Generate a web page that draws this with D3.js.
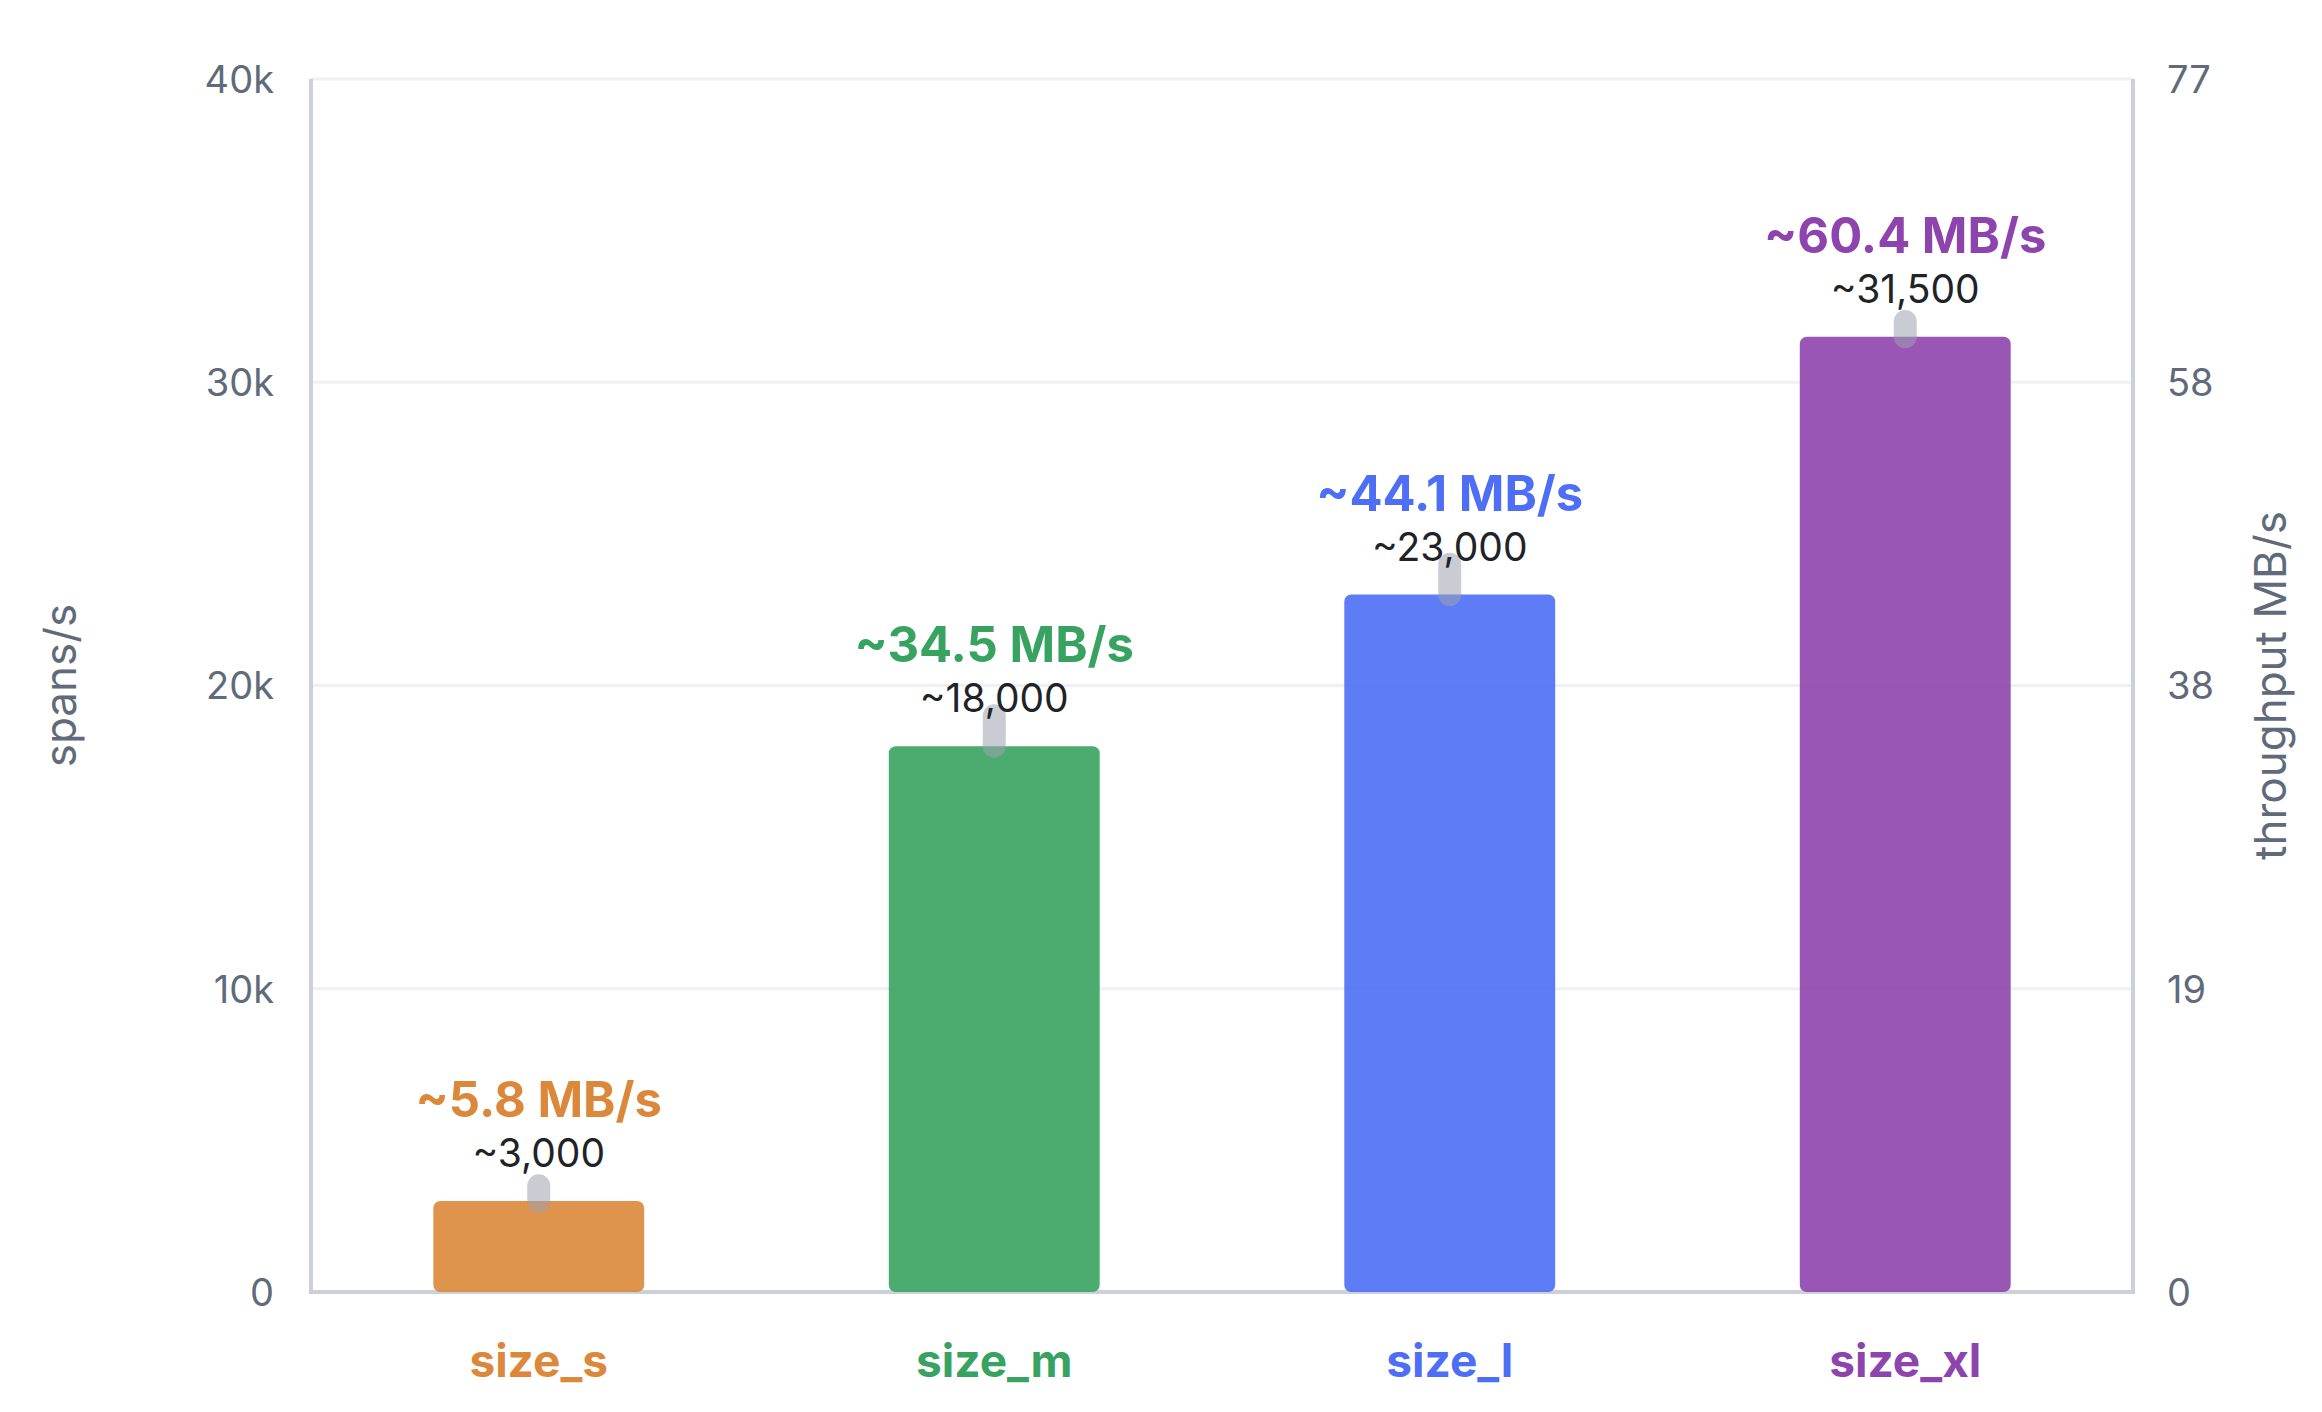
<!DOCTYPE html>
<html>
<head>
<meta charset="utf-8">
<script src="https://cdn.jsdelivr.net/npm/d3@7"></script>
<style>
  html, body { margin: 0; padding: 0; background: #ffffff; }
  svg { display: block; font-family: Inter, "Noto Sans", sans-serif; }
</style>
</head>
<body>
<svg id="chart" width="2322" height="1412"></svg>
<script>
// ---- data ----
const categories = ["size_s", "size_m", "size_l", "size_xl"];
const spansPerSec = [3000, 18000, 23000, 31500];
const spread = [500, 1000, 1000, 500];
const throughputMBs = [5.8, 34.5, 44.1, 60.4];
const leftTicks = [0, 10000, 20000, 30000, 40000];
const leftTickLabels = ["0", "10k", "20k", "30k", "40k"];
const rightTicks = [0, 19.25, 38.5, 57.75, 77];
const rightTickLabels = ["0", "19", "38", "58", "77"];
const seriesColors = ["#DB883B", "#38A361", "#4D6EF5", "#8E44AD"];

// ---- layout ----
const W = 2322, H = 1412;
const margin = { top: 79, right: 189, bottom: 120, left: 311 };
const x0 = margin.left, x1 = W - margin.right;
const y0 = H - margin.bottom, y1 = margin.top;

const svg = d3.select("#chart");

const x = d3.scaleBand().domain(categories).range([x0, x1])
  .paddingInner(0.537).paddingOuter(0.2685);
const y = d3.scaleLinear().domain([0, 40000]).range([y0, y1]);
const yR = d3.scaleLinear().domain([0, 77]).range([y0, y1]);
const color = d3.scaleOrdinal().domain(categories).range(seriesColors);

const axisColor = "#CBD0D9";
const tickColor = "#5F6B7A";

// gridlines
svg.append("g").selectAll("line").data(leftTicks.filter(d => d > 0)).join("line")
  .attr("x1", x0).attr("x2", x1)
  .attr("y1", d => y(d)).attr("y2", d => y(d))
  .attr("stroke", "#EEF0F4").attr("stroke-width", 3);

// left axis
const gL = svg.append("g").attr("transform", `translate(${x0},0)`)
  .call(d3.axisLeft(y).tickValues(leftTicks).tickSize(0).tickPadding(37)
    .tickFormat((d, i) => leftTickLabels[i]));
gL.select(".domain").remove();
gL.selectAll("text").attr("font-size", 38).attr("fill", tickColor)
  .attr("font-family", "Inter, sans-serif").attr("dy", "0.35em");

// right axis
const gR = svg.append("g").attr("transform", `translate(${x1},0)`)
  .call(d3.axisRight(yR).tickValues(rightTicks).tickSize(0).tickPadding(34)
    .tickFormat((d, i) => rightTickLabels[i]));
gR.select(".domain").remove();
gR.selectAll("text").attr("font-size", 38).attr("fill", tickColor)
  .attr("font-family", "Inter, sans-serif").attr("dy", "0.35em");

// axis lines
svg.append("line").attr("x1", x0).attr("x2", x0).attr("y1", y1).attr("y2", y0 + 2)
  .attr("stroke", axisColor).attr("stroke-width", 4);
svg.append("line").attr("x1", x1).attr("x2", x1).attr("y1", y1).attr("y2", y0 + 2)
  .attr("stroke", axisColor).attr("stroke-width", 4);
svg.append("line").attr("x1", x0 - 2).attr("x2", x1 + 2).attr("y1", y0).attr("y2", y0)
  .attr("stroke", axisColor).attr("stroke-width", 4);

const data = categories.map((c, i) => ({
  cat: c, v: spansPerSec[i], e: spread[i], mb: throughputMBs[i]
}));

// bars
svg.append("g").selectAll("rect").data(data).join("rect")
  .attr("x", d => x(d.cat))
  .attr("width", x.bandwidth())
  .attr("y", d => y(d.v))
  .attr("height", d => y(0) - y(d.v))
  .attr("rx", 7).attr("ry", 7)
  .attr("fill", d => color(d.cat))
  .attr("fill-opacity", 0.9);

// spread capsules
svg.append("g").selectAll("line").data(data).join("line")
  .attr("x1", d => x(d.cat) + x.bandwidth() / 2)
  .attr("x2", d => x(d.cat) + x.bandwidth() / 2)
  .attr("y1", d => y(d.v))
  .attr("y2", d => y(d.v + d.e))
  .attr("stroke", "#9CA3AF").attr("stroke-opacity", 0.55)
  .attr("stroke-width", 23).attr("stroke-linecap", "round");

// value labels
svg.append("g").selectAll("text").data(data).join("text")
  .attr("x", d => x(d.cat) + x.bandwidth() / 2)
  .attr("y", d => y(d.v) - 34)
  .attr("text-anchor", "middle")
  .attr("font-size", 39).attr("fill", "#1F2328")
  .text(d => "~" + d3.format(",")(d.v));

// throughput labels
svg.append("g").selectAll("text").data(data).join("text")
  .attr("x", d => x(d.cat) + x.bandwidth() / 2)
  .attr("y", d => y(d.v) - 84)
  .attr("text-anchor", "middle")
  .attr("font-size", 49).attr("font-weight", 700)
  .attr("fill", d => color(d.cat))
  .text(d => "~" + d.mb + " MB/s");

// category labels
svg.append("g").selectAll("text").data(data).join("text")
  .attr("x", d => x(d.cat) + x.bandwidth() / 2)
  .attr("y", y0 + 85)
  .attr("text-anchor", "middle")
  .attr("font-size", 46).attr("font-weight", 700)
  .attr("fill", d => color(d.cat))
  .text(d => d.cat);

// axis titles
svg.append("text")
  .attr("transform", `translate(76,${(y0 + y1) / 2}) rotate(-90)`)
  .attr("text-anchor", "middle")
  .attr("font-size", 44).attr("fill", tickColor)
  .text("spans/s");
svg.append("text")
  .attr("transform", `translate(2286,${(y0 + y1) / 2}) rotate(-90)`)
  .attr("text-anchor", "middle")
  .attr("font-size", 44).attr("fill", tickColor)
  .text("throughput MB/s");
</script>
</body>
</html>
